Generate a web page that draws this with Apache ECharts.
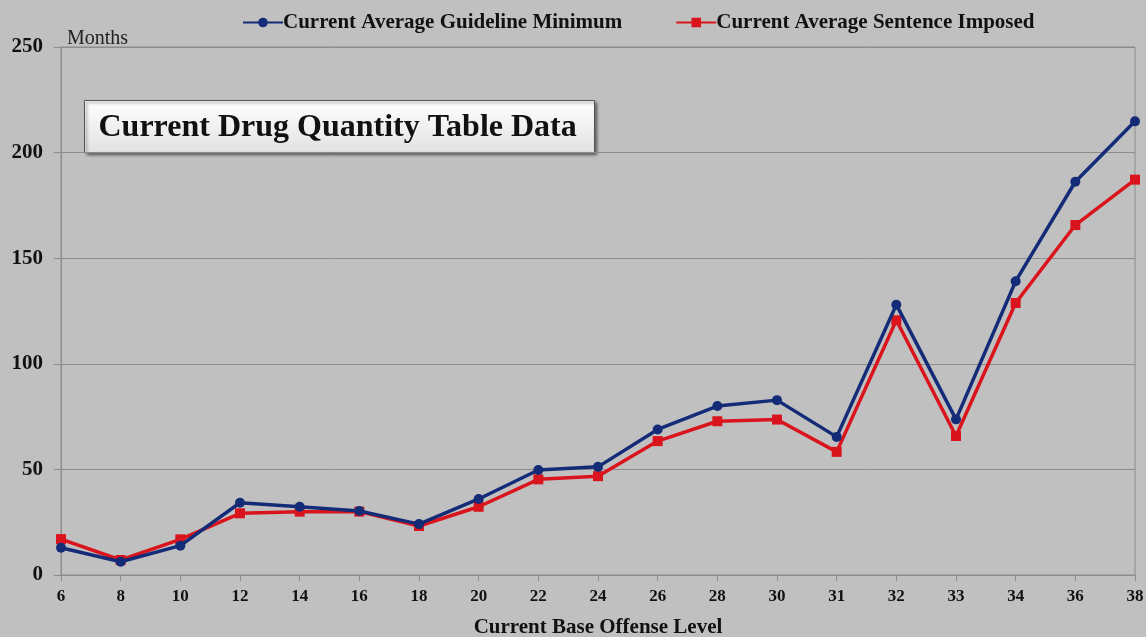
<!DOCTYPE html>
<html>
<head>
<meta charset="utf-8">
<script src="https://cdn.jsdelivr.net/npm/echarts@6/dist/echarts.min.js"></script>
<style>
  html, body { margin: 0; padding: 0; background: #c0c0c0; }
  #chart { width: 1146px; height: 637px; }
</style>
</head>
<body>
<div id="chart"></div>
<script>
// offense levels on the x axis
var levels = ["6", "8", "10", "12", "14", "16", "18", "20", "22", "24", "26", "28", "30", "31", "32", "33", "34", "36", "38"];
// months
var guidelineMin = [12.9, 6.3, 13.9, 34.2, 32.3, 30.3, 24.1, 36, 49.7, 51.2, 68.9, 80, 82.8, 65.4, 128, 73.7, 139.1, 186.2, 214.8];
var sentenceImposed = [17, 7.1, 16.9, 29.2, 30, 30, 23.2, 32.3, 45.3, 46.8, 63.4, 72.8, 73.6, 58.3, 120.6, 65.8, 128.8, 165.7, 187.2];

var serif = "'Liberation Serif', 'DejaVu Serif', serif";

var myChart = echarts.init(document.getElementById("chart"));
var option = {
  backgroundColor: "#c0c0c0",
  animation: false,
  legend: {
    top: 7,
    left: 237,
    itemGap: 53,
    itemWidth: 40,
    itemHeight: 12,
    textStyle: { fontFamily: serif, fontWeight: "bold", fontSize: 21, color: "#111", padding: [0, 0, 0, -5] },
    data: ["Current Average Guideline Minimum", "Current Average Sentence Imposed"]
  },
  grid: {
    left: 61,
    right: 11,
    top: 47,
    bottom: 62,
    outerBoundsMode: "none",
    show: true,
    borderColor: "#8c8c8c",
    borderWidth: 1
  },
  xAxis: {
    type: "category",
    data: levels,
    boundaryGap: false,
    name: "Current Base Offense Level",
    nameLocation: "middle",
    nameGap: 42,
    nameTextStyle: { fontFamily: serif, fontWeight: "bold", fontSize: 21, color: "#111" },
    axisLine: { lineStyle: { color: "#8c8c8c", width: 1 } },
    axisTick: { show: true, length: 6, lineStyle: { color: "#8c8c8c" } },
    axisLabel: { fontFamily: serif, fontWeight: "bold", fontSize: 17, color: "#111", margin: 13 },
    splitLine: { show: false }
  },
  yAxis: {
    type: "value",
    min: 0,
    max: 250,
    interval: 50,
    name: "Months",
    nameLocation: "end",
    nameGap: -2,
    nameTextStyle: { fontFamily: serif, fontSize: 20, color: "#222", align: "left", padding: [0, 0, 0, 6] },
    axisLine: { show: true, lineStyle: { color: "#8c8c8c", width: 1 } },
    axisTick: { show: true, length: 7, lineStyle: { color: "#8c8c8c" } },
    axisLabel: { fontFamily: serif, fontWeight: "bold", fontSize: 21, color: "#111", margin: 18 },
    splitLine: { lineStyle: { color: "#8c8c8c", width: 1 } }
  },
  graphic: [
    {
      type: "group",
      left: 84,
      top: 100,
      children: [
        {
          type: "rect",
          shape: { x: 0, y: 0, width: 510, height: 52 },
          style: {
            fill: new echarts.graphic.LinearGradient(0, 0, 0, 1, [
              { offset: 0, color: "#ffffff" },
              { offset: 1, color: "#e2e2e2" }
            ]),
            stroke: "#555",
            lineWidth: 1,
            shadowBlur: 3,
            shadowOffsetX: 2,
            shadowOffsetY: 2,
            shadowColor: "rgba(0,0,0,0.5)"
          }
        },
        {
          type: "text",
          x: 14,
          y: 27,
          style: {
            text: "Current Drug Quantity Table Data",
            fontFamily: serif,
            fontWeight: "bold",
            fontSize: 32,
            fill: "#111",
            align: "left",
            verticalAlign: "middle"
          }
        }
      ]
    }
  ],
  series: [
    {
      name: "Current Average Guideline Minimum",
      type: "line",
      data: guidelineMin,
      symbol: "circle",
      symbolSize: 10,
      z: 3,
      lineStyle: { color: "#142c78", width: 3.5 },
      itemStyle: { color: "#142c78" }
    },
    {
      name: "Current Average Sentence Imposed",
      type: "line",
      data: sentenceImposed,
      symbol: "rect",
      symbolSize: 10,
      z: 2,
      lineStyle: { color: "#da141c", width: 3.5 },
      itemStyle: { color: "#da141c" }
    }
  ]
};
myChart.setOption(option);
</script>
</body>
</html>
